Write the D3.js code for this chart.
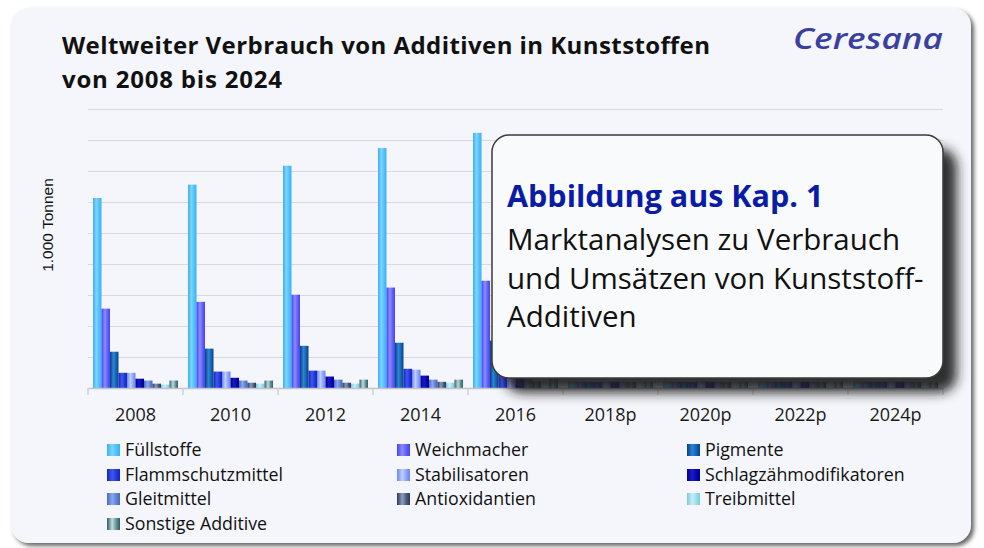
<!DOCTYPE html>
<html>
<head>
<meta charset="utf-8">
<script src="https://cdn.jsdelivr.net/npm/d3@7"></script>
<style>
  body { margin: 0; background: #ffffff; }
  text { font-family: "Open Sans", "Noto Sans", sans-serif; }
</style>
</head>
<body>
<svg id="chart"></svg>
<script>
// values in 1.000 Tonnen
// 2018p-2024p sit behind the box: only a thin strip of short bars shows below it
let years = ["2008", "2010", "2012", "2014", "2016", "2018p", "2020p", "2022p", "2024p"];
let seriesNames = ["Füllstoffe", "Weichmacher", "Pigmente", "Flammschutzmittel", "Stabilisatoren",
  "Schlagzähmodifikatoren", "Gleitmittel", "Antioxidantien", "Treibmittel", "Sonstige Additive"];

let fuellstoffe       = [6130, 6560, 7170, 7740, 8230, 210, 210, 210, 210];
let weichmacher       = [2560, 2780, 3010, 3240, 3460, 200, 200, 200, 200];
let pigmente          = [1170, 1270, 1360, 1460, 1530, 200, 200, 200, 200];
let flammschutz       = [490, 530, 560, 620, 660, 200, 200, 200, 200];
let stabilisatoren    = [490, 530, 560, 590, 620, 200, 200, 200, 200];
let schlagzaeh        = [300, 330, 370, 400, 420, 200, 200, 200, 200];
let gleitmittel       = [240, 240, 270, 270, 290, 200, 200, 200, 200];
let antioxidantien    = [140, 170, 170, 200, 210, 190, 190, 190, 190];
let treibmittel       = [110, 140, 140, 170, 180, 190, 190, 190, 190];
let sonstige          = [240, 240, 270, 270, 290, 200, 200, 200, 200];
let allValues = [fuellstoffe, weichmacher, pigmente, flammschutz, stabilisatoren,
  schlagzaeh, gleitmittel, antioxidantien, treibmittel, sonstige];

let gridTicks = [1000, 2000, 3000, 4000, 5000, 6000, 7000, 8000, 9000];

// [dark edge, light centre, base]
let barColors = [
  ["#3ab0f0", "#7fd3ff", "#4dc0fc"],
  ["#4444ee", "#8c8cff", "#5c5cf6"],
  ["#0b3f7a", "#2a86d8", "#1460b0"],
  ["#1424b8", "#4058f0", "#2236d8"],
  ["#6a86ee", "#c0d0ff", "#86a0f6"],
  ["#000090", "#1a1ac8", "#0606a8"],
  ["#4a68c0", "#8aa8ec", "#5c80d4"],
  ["#2a3858", "#8a9cc0", "#46587c"],
  ["#78c8dc", "#c8eef8", "#98dcec"],
  ["#305c64", "#c0dce0", "#5a8a90"]
];

let width = 984, height = 548;
let svg = d3.select("#chart").attr("width", width).attr("height", height);
let defs = svg.append("defs");

let panelShadow = defs.append("filter").attr("id", "panelShadow")
  .attr("x", "-5%").attr("y", "-5%").attr("width", "110%").attr("height", "110%");
panelShadow.append("feDropShadow").attr("dx", 3).attr("dy", 3).attr("stdDeviation", 2)
  .attr("flood-color", "#555").attr("flood-opacity", 0.9);

let boxShadow = defs.append("filter").attr("id", "boxShadow")
  .attr("x", "-10%").attr("y", "-10%").attr("width", "130%").attr("height", "140%");
boxShadow.append("feDropShadow").attr("dx", 13).attr("dy", 14).attr("stdDeviation", 6)
  .attr("flood-color", "#1c1c1c").attr("flood-opacity", 0.92);

barColors.forEach((c, i) => {
  let g = defs.append("linearGradient").attr("id", "grad" + i)
    .attr("x1", "0%").attr("x2", "100%").attr("y1", "0%").attr("y2", "0%");
  g.append("stop").attr("offset", "0%").attr("stop-color", c[0]);
  g.append("stop").attr("offset", "40%").attr("stop-color", c[1]);
  g.append("stop").attr("offset", "75%").attr("stop-color", c[2]);
  g.append("stop").attr("offset", "100%").attr("stop-color", c[0]);
});

// panel
svg.append("rect")
  .attr("x", 11).attr("y", 8).attr("width", 960).attr("height", 535)
  .attr("rx", 18)
  .attr("fill", "#f5f6fb")
  .attr("filter", "url(#panelShadow)");

let left = 88, right = 943, top_sp = 109, base = 388;

let x0 = d3.scaleBand()
  .domain(years)
  .range([left, right])
  .paddingInner(0.105)
  .paddingOuter(0.0525);
let x1 = d3.scaleBand()
  .domain(seriesNames)
  .range([0, x0.bandwidth()]);
let yax = d3.scaleLinear()
  .domain([0, 9000])
  .range([base, top_sp]);

// gridlines
let grid = svg.append("g")
  .attr("transform", `translate(${left}, 0)`)
  .call(d3.axisLeft(yax).tickValues(gridTicks).tickSize(-(right - left)).tickFormat(""));
grid.select(".domain").remove();
grid.selectAll("line").attr("stroke", "#d9d9de").attr("stroke-width", 1);

// bars
let groups = svg.append("g").selectAll("g")
  .data(years)
  .join("g")
  .attr("transform", d => `translate(${x0(d)}, 0)`);
groups.selectAll("rect")
  .data((d, i) => seriesNames.map((s, k) => ({s: s, k: k, v: allValues[k][i]})))
  .join("rect")
  .attr("x", d => x1(d.s))
  .attr("width", x1.bandwidth())
  .attr("y", d => yax(d.v))
  .attr("height", d => base - yax(d.v))
  .attr("fill", d => `url(#grad${d.k})`);

// category axis
let xax_draw = d3.axisBottom(x0).tickSize(0).tickPadding(20);
let xg = svg.append("g")
  .attr("transform", `translate(0, ${base})`)
  .call(xax_draw);
xg.select(".domain").attr("stroke", "#c4c4c8").attr("stroke-width", 1.5);
xg.selectAll("text")
  .attr("font-size", 18).attr("fill", "#1a1a1a")
  .style("font-family", "'Open Sans', sans-serif");
let step = x0.step();
svg.append("g").selectAll("line")
  .data(d3.range(years.length + 1))
  .join("line")
  .attr("x1", d => left + d * step).attr("x2", d => left + d * step)
  .attr("y1", base).attr("y2", base + 7)
  .attr("stroke", "#d0d0d4").attr("stroke-width", 1.5);

// axis title
svg.append("text")
  .text("1.000 Tonnen")
  .attr("transform", "translate(53, 225) rotate(-90)")
  .attr("text-anchor", "middle")
  .attr("font-size", 15.5)
  .style("font-family", "'Liberation Sans', Arial, sans-serif")
  .attr("fill", "#111");

// title
svg.append("text").attr("x", 62).attr("y", 54)
  .text("Weltweiter Verbrauch von Additiven in Kunststoffen")
  .attr("font-size", 24).attr("font-weight", "bold").attr("fill", "#111")
  .attr("textLength", 648).attr("lengthAdjust", "spacing");
svg.append("text").attr("x", 62).attr("y", 88)
  .text("von 2008 bis 2024")
  .attr("font-size", 24).attr("font-weight", "bold").attr("fill", "#111")
  .attr("textLength", 220).attr("lengthAdjust", "spacing");

// logo
svg.append("text").attr("x", 793).attr("y", 49)
  .text("Ceresana")
  .attr("font-size", 29).attr("font-style", "italic").attr("font-weight", 600)
  .attr("textLength", 150).attr("lengthAdjust", "spacingAndGlyphs")
  .attr("fill", "#3a40a0");

// legend
let legCols = [107, 397, 687], legRows = [450, 475, 499, 524];
let leg = svg.append("g").selectAll("g")
  .data(seriesNames)
  .join("g")
  .attr("transform", (d, i) => `translate(${legCols[i % 3]}, ${legRows[Math.floor(i / 3)]})`);
leg.append("rect")
  .attr("x", 0).attr("y", -6).attr("width", 13).attr("height", 12)
  .attr("fill", (d, i) => `url(#grad${i})`);
leg.append("text")
  .attr("x", 18).attr("dy", "0.36em")
  .text(d => d)
  .attr("font-size", 17.8).attr("fill", "#111");

// overlay box
svg.append("rect")
  .attr("x", 492).attr("y", 135).attr("width", 451).attr("height", 243)
  .attr("rx", 17)
  .attr("fill", "#f9fafb")
  .attr("stroke", "#3a3a3a").attr("stroke-width", 1.5)
  .attr("filter", "url(#boxShadow)");
svg.append("text").attr("x", 507).attr("y", 207)
  .text("Abbildung aus Kap. 1")
  .attr("font-size", 30.5).attr("font-weight", "bold").attr("fill", "#0a1ca6");
let boxLines = ["Marktanalysen zu Verbrauch", "und Umsätzen von Kunststoff-", "Additiven"];
svg.append("g").selectAll("text")
  .data(boxLines)
  .join("text")
  .attr("x", 507).attr("y", (d, i) => 250 + i * 38.5)
  .text(d => d)
  .attr("font-size", 29.5).attr("fill", "#111");
</script>
</body>
</html>
